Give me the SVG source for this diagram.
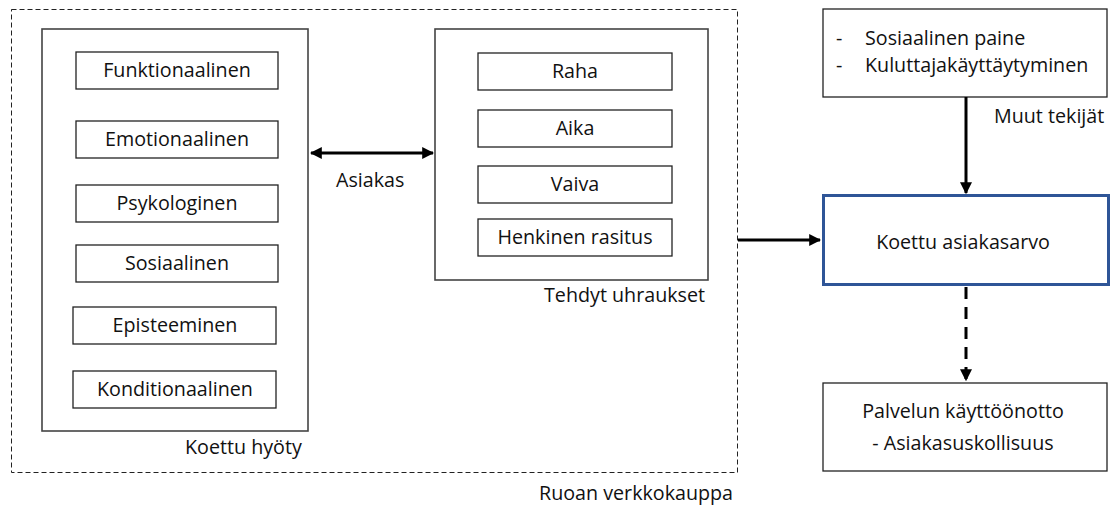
<svg xmlns="http://www.w3.org/2000/svg" width="1112" height="505" viewBox="0 0 1112 505">
<defs>
<style>
text{font-family:"Open Sans","Liberation Sans",sans-serif;font-size:19.7px;fill:#111}
.c{text-anchor:middle}
.box{fill:#fff;stroke:#222;stroke-width:1.3}
.grp{fill:#fff;stroke:#444;stroke-width:1.6}
.conn{stroke:#000;stroke-width:3;fill:none}
</style>
<marker id="ah" viewBox="0 0 10 10" refX="9" refY="5" markerWidth="4" markerHeight="4" orient="auto-start-reverse" markerUnits="strokeWidth">
<path d="M0,0 L10,5 L0,10 z" fill="#000"/>
</marker>
</defs>
<rect width="1112" height="505" fill="#fff"/>
<g id="ruoan-verkkokauppa">
<rect x="11.5" y="9.5" width="726" height="463" fill="none" stroke="#222" stroke-width="1" stroke-dasharray="5,3"/>
<text x="539" y="500">Ruoan verkkokauppa</text>
</g>
<g id="koettu-hyoty">
<rect class="grp" x="42" y="29" width="266" height="402"/>
<text x="185" y="454">Koettu hyöty</text>
</g>
<g id="funktionaalinen"><rect class="box" x="76" y="52" width="202" height="37"/><text class="c" x="177" y="77">Funktionaalinen</text></g>
<g id="emotionaalinen"><rect class="box" x="76" y="121" width="202" height="37"/><text class="c" x="177" y="146">Emotionaalinen</text></g>
<g id="psykologinen"><rect class="box" x="76" y="185" width="202" height="37"/><text class="c" x="177" y="210">Psykologinen</text></g>
<g id="sosiaalinen"><rect class="box" x="76" y="245" width="202" height="37"/><text class="c" x="177" y="270">Sosiaalinen</text></g>
<g id="episteeminen"><rect class="box" x="73" y="307" width="203" height="37"/><text class="c" x="175" y="332">Episteeminen</text></g>
<g id="konditionaalinen"><rect class="box" x="73" y="371" width="203" height="37"/><text class="c" x="175" y="396">Konditionaalinen</text></g>
<g id="tehdyt-uhraukset">
<rect class="grp" x="435" y="29" width="273" height="251"/>
<text x="544" y="302">Tehdyt uhraukset</text>
</g>
<g id="raha"><rect class="box" x="478" y="53" width="194" height="37"/><text class="c" x="575" y="78">Raha</text></g>
<g id="aika"><rect class="box" x="478" y="110" width="194" height="37"/><text class="c" x="575" y="135">Aika</text></g>
<g id="vaiva"><rect class="box" x="478" y="166" width="194" height="37"/><text class="c" x="575" y="191">Vaiva</text></g>
<g id="henkinen-rasitus"><rect class="box" x="478" y="219" width="194" height="37"/><text class="c" x="575" y="244">Henkinen rasitus</text></g>
<g id="muut-tekijat">
<rect class="box" x="823" y="9" width="284" height="88"/>
<text x="836" y="45">-</text>
<text x="865" y="45">Sosiaalinen paine</text>
<text x="836" y="72">-</text>
<text x="865" y="72">Kuluttajakäyttäytyminen</text>
</g>
<g id="koettu-asiakasarvo">
<rect x="823.5" y="195.5" width="285" height="89" fill="#fff" stroke="#2F5597" stroke-width="3"/>
<text class="c" x="963" y="249">Koettu asiakasarvo</text>
</g>
<g id="palvelun-kayttoonotto">
<rect class="box" x="823" y="383" width="284" height="88"/>
<text class="c" x="963" y="418">Palvelun käyttöönotto</text>
<text class="c" x="963" y="450">- Asiakasuskollisuus</text>
</g>
<g id="connectors">
<line class="conn" x1="311" y1="153" x2="433" y2="153" marker-start="url(#ah)" marker-end="url(#ah)"/>
<text x="336" y="187">Asiakas</text>
<line class="conn" x1="738" y1="240" x2="820" y2="240" marker-end="url(#ah)"/>
<line class="conn" x1="966" y1="97" x2="966" y2="193" marker-end="url(#ah)"/>
<text x="994" y="123">Muut tekijät</text>
<line class="conn" x1="966" y1="287" x2="966" y2="380" stroke-dasharray="12,8" marker-end="url(#ah)"/>
</g>
</svg>
